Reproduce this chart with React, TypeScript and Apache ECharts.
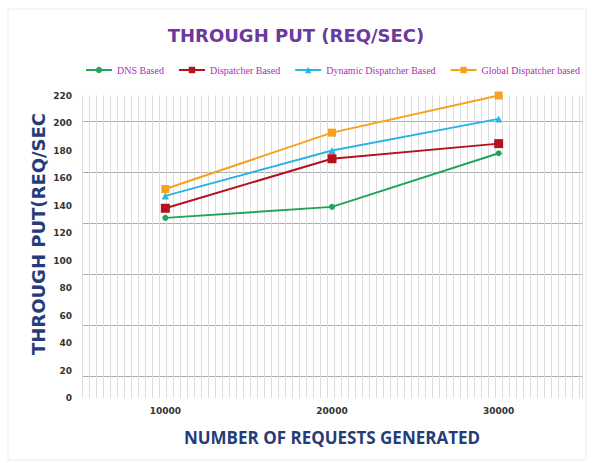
import React, { useEffect, useRef } from "react";
import * as echarts from "echarts";

const categories = ["10000", "20000", "30000"];
const dnsBased = [131, 139, 178];
const dispatcherBased = [138, 174, 185];
const dynamicDispatcher = [147, 180, 203];
const globalDispatcher = [152, 193, 220];
const seriesNames = ["DNS Based", "Dispatcher Based", "Dynamic Dispatcher Based", "Global Dispatcher based"];

export default function App() {
  const ref = useRef<HTMLDivElement>(null);
  useEffect(() => {
    const chart = echarts.init(ref.current!, null, { renderer: "svg" });
    const mk = (name: string, data: number[], color: string, symbol: string, size: number) => ({
      name,
      type: "line",
      data,
      xAxisIndex: 0,
      yAxisIndex: 0,
      symbol,
      symbolSize: size,
      lineStyle: { color, width: 2 },
      itemStyle: { color },
      z: 5,
    });
    chart.setOption({
      animation: false,
      backgroundColor: "#ffffff",
      title: {
        text: "THROUGH PUT (REQ/SEC)",
        left: "center",
        top: 21,
        textStyle: { color: "#6b3a9c", fontSize: 18, fontWeight: "bold", fontFamily: "DejaVu Sans" },
      },
      legend: {
        top: 60,
        left: 80,
        itemGap: 14,
        itemWidth: 26,
        itemHeight: 8,
        textStyle: { color: "#b02cb8", fontSize: 10, fontFamily: "Liberation Serif" },
        data: seriesNames,
      },
      graphic: [
        {
          type: "rect",
          shape: { x: 8, y: 9, width: 578, height: 451 },
          style: { fill: "none", stroke: "#ececec", lineWidth: 1 },
          silent: true,
        },
        {
          type: "text",
          x: 38,
          y: 234,
          rotation: Math.PI / 2,
          style: {
            text: "THROUGH PUT(REQ/SEC",
            fill: "#263c78",
            fontSize: 18,
            fontWeight: "bold",
            fontFamily: "DejaVu Sans",
            align: "center",
            verticalAlign: "middle",
          },
        },
      ],
      grid: [
        { left: 82, right: 10, top: 95.5, bottom: 65 },
        { left: 82, right: 10, top: 121.7, bottom: 86.3 },
      ],
      xAxis: [
        {
          type: "category",
          gridIndex: 0,
          data: categories,
          boundaryGap: true,
          axisLine: { show: false },
          axisTick: { show: false },
          axisLabel: { color: "#333", fontSize: 9, fontWeight: "bold", fontFamily: "DejaVu Sans", margin: 8 },
          name: "NUMBER OF REQUESTS GENERATED",
          nameLocation: "middle",
          nameGap: 31,
          nameTextStyle: { color: "#263c78", fontSize: 17, fontWeight: "bold", fontFamily: "Open Sans" },
        },
        {
          type: "value",
          gridIndex: 0,
          min: 0,
          max: 500,
          interval: 7,
          axisLine: { show: false },
          axisTick: { show: false },
          axisLabel: { show: false },
          splitLine: { show: true, lineStyle: { color: "#dddddd", width: 1 } },
        },
        {
          type: "value",
          gridIndex: 1,
          min: 0,
          max: 1,
          axisLine: { show: false },
          axisTick: { show: false },
          axisLabel: { show: false },
          splitLine: { show: false },
        },
      ],
      yAxis: [
        {
          type: "value",
          gridIndex: 0,
          min: 0,
          max: 220,
          interval: 20,
          axisLine: { show: false },
          axisTick: { show: false },
          splitLine: { show: false },
          axisLabel: { color: "#333", fontSize: 9, fontWeight: "bold", fontFamily: "DejaVu Sans", margin: 10 },
        },
        {
          type: "value",
          gridIndex: 1,
          min: 0,
          max: 255,
          interval: 51,
          axisLine: { show: false },
          axisTick: { show: false },
          axisLabel: { show: false },
          splitLine: { show: true, lineStyle: { color: "#aaaaaa", width: 1 } },
        },
      ],
      series: [
        mk(seriesNames[0], dnsBased, "#22a55a", "circle", 6),
        mk(seriesNames[1], dispatcherBased, "#b5121b", "rect", 9),
        mk(seriesNames[2], dynamicDispatcher, "#2bb3e6", "triangle", 7),
        mk(seriesNames[3], globalDispatcher, "#f5a31e", "rect", 8),
      ],
    });
    return () => chart.dispose();
  }, []);
  return (
    <div
      ref={ref}
      style={{ position: "fixed", left: 0, top: 0, width: 592, height: 463 }}
    />
  );
}
